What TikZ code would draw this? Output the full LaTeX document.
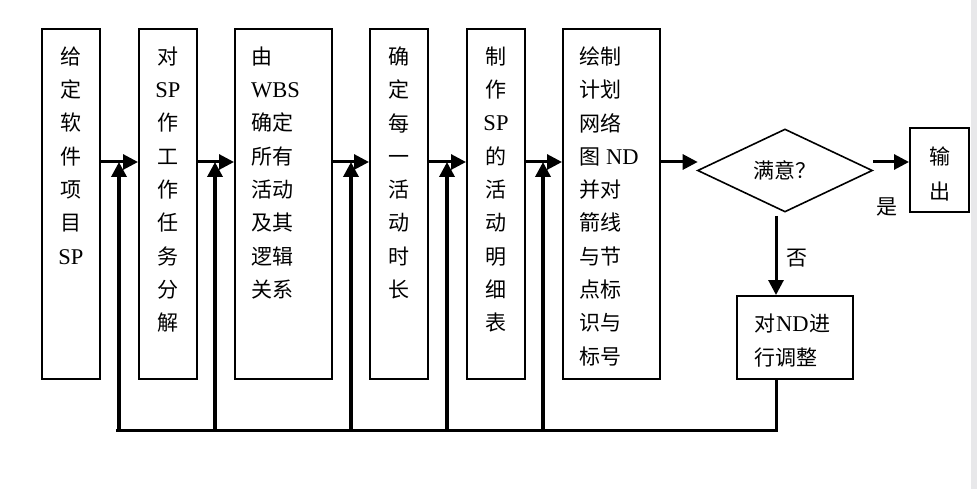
\documentclass[tikz,border=0pt]{standalone}
\usepackage{fontspec}
\setmainfont{Liberation Serif}
\newfontfamily\cjk{Noto Sans CJK SC}
\usetikzlibrary{arrows.meta,shapes.geometric}
\newcommand\C[1]{{\cjk #1}}
\newcommand\Lt[1]{{\fontsize{22.5}{33.3}\selectfont #1}}
\tikzset{
  box/.style={draw, line width=2pt, minimum height=350pt, inner sep=0pt},
  txt/.style={inner sep=0pt, font=\fontsize{21}{33.3}\selectfont},
  arr/.style={line width=3pt, -{Triangle[length=15pt,width=15pt]}},
  fb/.style={line width=3.5pt},
}
\begin{document}
\begin{tikzpicture}[x=1pt,y=-1pt]
\useasboundingbox (0,0) rectangle (977,489);
\fill[fill={rgb,255:red,232;green,232;blue,234}] (971,0) rectangle (977,489);
% process boxes
\node[box, minimum width=58pt] (b1) at (71,204) {};
\node[box, minimum width=58pt] (b2) at (168,204) {};
\node[box, minimum width=97pt] (b3) at (283.5,204) {};
\node[box, minimum width=58pt] (b4) at (399,204) {};
\node[box, minimum width=58pt] (b5) at (496,204) {};
\node[box, minimum width=97pt] (b6) at (611.5,204) {};
% texts
\node[txt, anchor=north, align=center] (t1) at (71,46.5) {\C{给}\\\C{定}\\\C{软}\\\C{件}\\\C{项}\\\C{目}\\\Lt{SP}};
\node[txt, anchor=north, align=center] (t2) at (168,46.5) {\C{对}\\\Lt{SP}\\\C{作}\\\C{工}\\\C{作}\\\C{任}\\\C{务}\\\C{分}\\\C{解}};
\node[txt, anchor=north west, align=left] (t3) at (251,46.5) {\C{由}\\\Lt{WBS}\\\C{确定}\\\C{所有}\\\C{活动}\\\C{及其}\\\C{逻辑}\\\C{关系}};
\node[txt, anchor=north, align=center] (t4) at (399,46.5) {\C{确}\\\C{定}\\\C{每}\\\C{一}\\\C{活}\\\C{动}\\\C{时}\\\C{长}};
\node[txt, anchor=north, align=center] (t5) at (496,46.5) {\C{制}\\\C{作}\\\Lt{SP}\\\C{的}\\\C{活}\\\C{动}\\\C{明}\\\C{细}\\\C{表}};
\node[txt, anchor=north west, align=left] (t6) at (579,46.5) {\C{绘制}\\\C{计划}\\\C{网络}\\\C{图}\hspace{6pt}\Lt{ND}\\\C{并对}\\\C{箭线}\\\C{与节}\\\C{点标}\\\C{识与}\\\C{标号}};
% decision
\node[draw, line width=1.6pt, shape=diamond, aspect=2.1, minimum width=175pt, minimum height=83pt, inner sep=0pt, font=\fontsize{21}{25}\selectfont] (d) at (785,170.5) {\C{满意？}};
\node[draw, line width=2pt, minimum width=59pt, minimum height=84pt, inner sep=0pt] (out) at (939.5,170.5) {};
\node[txt, align=center, font=\fontsize{21}{35}\selectfont] (tout) at (939.5,174) {\C{输}\\\C{出}};
\node[draw, line width=2pt, minimum width=116pt, minimum height=83pt, inner sep=0pt] (adj) at (794.5,337.5) {};
\node[txt, anchor=north west, align=left] (tadj) at (754,314) {\C{对}\hspace{1pt}\Lt{ND}\hspace{1pt}\C{进}\\\C{行调整}};
\node[txt, font=\fontsize{21}{25}\selectfont] (yes) at (887,207) {\C{是}};
\node[txt, font=\fontsize{21}{25}\selectfont] (no) at (797,258) {\C{否}};
% rows
\coordinate (row) at (0,162);
\coordinate (bot) at (0,430);
\coordinate (col) at (776,0);
\coordinate (f1) at (119,430);
\coordinate (f2) at (215,430);
\coordinate (f3) at (351,430);
\coordinate (f4) at (447,430);
\coordinate (f5) at (543,430);
% forward arrows
\draw[arr] (b1.east |- row) -- (b2.west |- row);
\draw[arr] (b2.east |- row) -- (b3.west |- row);
\draw[arr] (b3.east |- row) -- (b4.west |- row);
\draw[arr] (b4.east |- row) -- (b5.west |- row);
\draw[arr] (b5.east |- row) -- (b6.west |- row);
\draw[arr] (b6.east |- row) -- ([xshift=1pt]d.west |- row);
\draw[arr] (d.east |- row) -- (out.west |- row);
\draw[arr] ([yshift=-3pt]col |- d.south) -- (col |- adj.north);
% feedback
\draw[line width=3pt, line cap=rect] (col |- adj.south) -- (col |- bot) -- ([xshift=-1.5pt]f1);
\draw[fb, -{Triangle[length=15pt,width=15pt]}] (f1) -- (f1 |- row);
\draw[fb, -{Triangle[length=15pt,width=15pt]}] (f2) -- (f2 |- row);
\draw[fb, -{Triangle[length=15pt,width=15pt]}] (f3) -- (f3 |- row);
\draw[fb, -{Triangle[length=15pt,width=15pt]}] (f4) -- (f4 |- row);
\draw[fb, -{Triangle[length=15pt,width=15pt]}] (f5) -- (f5 |- row);
\end{tikzpicture}
\end{document}
